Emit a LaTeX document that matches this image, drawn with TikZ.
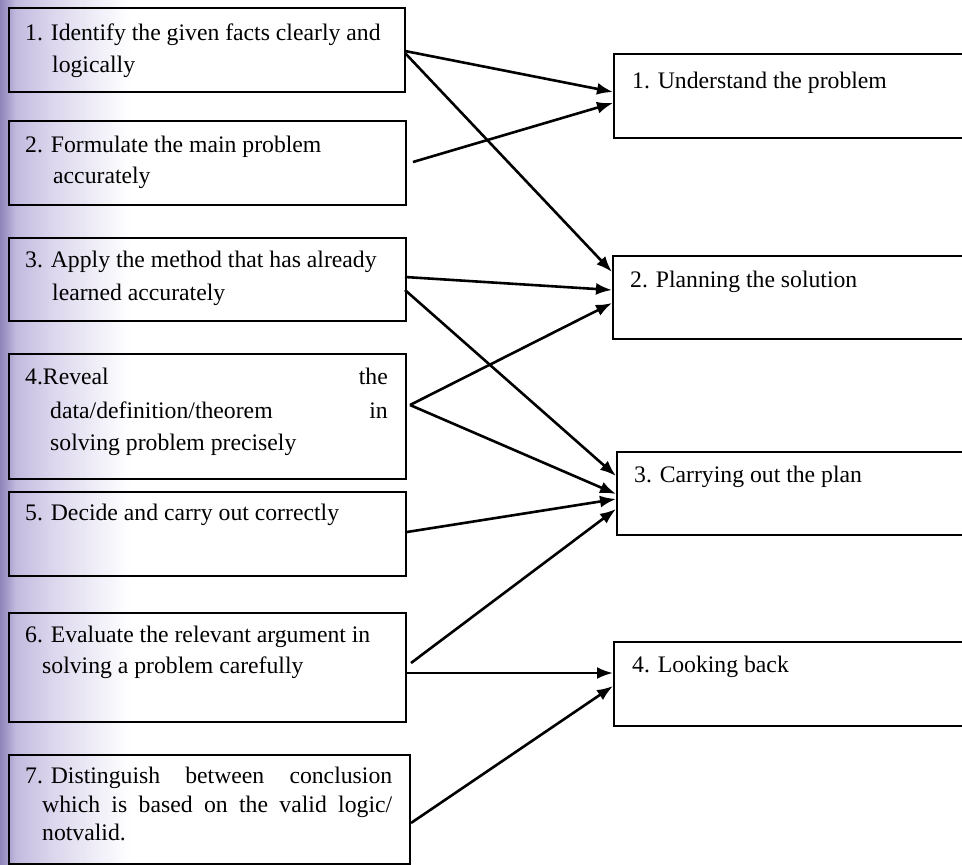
\documentclass[tikz,border=0pt]{standalone}
\usepackage{fontspec}
\setmainfont{Liberation Serif}
\usetikzlibrary{arrows.meta}
\pgfdeclarehorizontalshading{leftfade}{100bp}{rgb(0bp)=(0.56,0.52,0.73); rgb(25bp)=(0.56,0.52,0.73); rgb(28bp)=(0.66,0.62,0.80); rgb(31bp)=(0.76,0.73,0.87); rgb(45bp)=(0.86,0.84,0.93); rgb(75bp)=(1,1,1); rgb(100bp)=(1,1,1)}
\tikzset{
  box/.style={draw=black, line width=2.4pt, rectangle, inner sep=0pt, anchor=north west},
  txt/.style={inner sep=0pt, anchor=base west, font=\fontsize{23.7}{28}\selectfont},
  txtr/.style={inner sep=0pt, anchor=base east, font=\fontsize{23.7}{28}\selectfont},
  conn/.style={line width=2.6pt, -{Latex[length=16pt,width=12pt]}}
}
\begin{document}
\begin{tikzpicture}[x=1pt,y=-1pt]
\useasboundingbox (0,0) rectangle (962,865);
\clip (0,0) rectangle (962,865);
\fill[white] (0,0) rectangle (962,865);
\fill[shading=leftfade] (0,0) rectangle (130,865);

% left boxes
\node[box, minimum width=396pt, minimum height=84pt]  (L1) at (8,7) {};
\node[box, minimum width=397pt, minimum height=84pt]  (L2) at (8,120) {};
\node[box, minimum width=397pt, minimum height=83pt]  (L3) at (8,237) {};
\node[box, minimum width=397pt, minimum height=125pt] (L4) at (8,353) {};
\node[box, minimum width=397pt, minimum height=84pt]  (L5) at (8,491) {};
\node[box, minimum width=397pt, minimum height=109pt] (L6) at (8,612) {};
\node[box, minimum width=401pt, minimum height=109pt] (L7) at (8,754) {};

% right boxes (open to the right edge)
\node[box, minimum width=370pt, minimum height=84pt] (R1) at (613,53) {};
\node[box, minimum width=370pt, minimum height=83pt] (R2) at (612,255) {};
\node[box, minimum width=370pt, minimum height=83pt] (R3) at (616,451) {};
\node[box, minimum width=370pt, minimum height=84pt] (R4) at (613,641) {};

% left texts
\node[txt] (t1a) at (25,40) {1. Identify the given facts clearly and};
\node[txt] (t1b) at (52,72) {logically};
\node[txt] (t2a) at (25,152) {2. Formulate the main problem};
\node[txt] (t2b) at (53,183) {accurately};
\node[txt] (t3a) at (25,267) {3. Apply the method that has already};
\node[txt] (t3b) at (52,300) {learned accurately};
\node[txt] (t4a) at (25,384) {4.Reveal};
\node[txtr] (t4b) at (388,384) {the};
\node[txt] (t4c) at (50,418) {data/definition/theorem};
\node[txtr] (t4d) at (388,418) {in};
\node[txt] (t4e) at (50,450) {solving problem precisely};
\node[txt] (t5a) at (25,520) {5. Decide and carry out correctly};
\node[txt] (t6a) at (25,642) {6. Evaluate the relevant argument in};
\node[txt] (t6b) at (42,673) {solving a problem carefully};
\node[txt] (t7a) at (25,783) {\hbox to 367pt{7. Distinguish\hfill between\hfill conclusion}};
\node[txt] (t7b) at (42,812) {\hbox to 350pt{which\hfill is\hfill based\hfill on\hfill the\hfill valid\hfill logic/}};
\node[txt] (t7c) at (42,840) {notvalid.};

% right texts
\node[txt] (r1t) at (632,88) {1. Understand the problem};
\node[txt] (r2t) at (630,287) {2. Planning the solution};
\node[txt] (r3t) at (634,482) {3. Carrying out the plan};
\node[txt] (r4t) at (632,672) {4. Looking back};

% connector end points
\coordinate (s1a) at (405,51);
\coordinate (s1b) at (405,53);
\coordinate (s2)  at (413,162);
\coordinate (s3a) at (405,277);
\coordinate (s3b) at (405,290);
\coordinate (s4)  at (410,405);
\coordinate (s5)  at (407,532);
\coordinate (s6a) at (411,663);
\coordinate (s6b) at (405,673);
\coordinate (s7)  at (411,823);

\coordinate (e1a) at (R1.west |- 0,92);
\coordinate (e1b) at (R1.west |- 0,103);
\coordinate (e2a) at (R2.west |- 0,272);
\coordinate (e2b) at (R2.west |- 0,290);
\coordinate (e2c) at (R2.west |- 0,303);
\coordinate (e3a) at (R3.west |- 0,476);
\coordinate (e3b) at (R3.west |- 0,494);
\coordinate (e3c) at (R3.west |- 0,499);
\coordinate (e3d) at (R3.west |- 0,509);
\coordinate (e4a) at (R4.west |- 0,673);
\coordinate (e4b) at (R4.west |- 0,686);

% connectors
\draw[conn] (s1a) -- (e1a);
\draw[conn] (s1b) -- (e2a);
\draw[conn] (s2)  -- (e1b);
\draw[conn] (s3a) -- (e2b);
\draw[conn] (s3b) -- (e3a);
\draw[conn] (s4)  -- (e2c);
\draw[conn] (s4)  -- (e3b);
\draw[conn] (s5)  -- (e3c);
\draw[conn] (s6a) -- (e3d);
\draw[conn] (s6b) -- (e4a);
\draw[conn] (s7)  -- (e4b);
\end{tikzpicture}
\end{document}
